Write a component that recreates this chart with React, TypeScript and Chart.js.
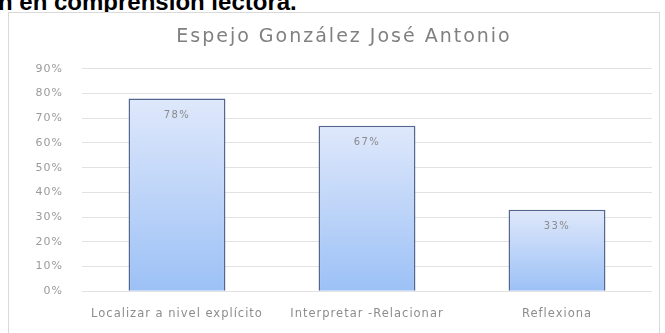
import React, { useEffect, useRef } from "react";
import { Chart, registerables } from "chart.js";

Chart.register(...registerables);

const categories = ["Localizar a nivel explícito", "Interpretar -Relacionar", "Reflexiona"];
const values = [78, 67, 33];
const valueLabels = ["78%", "67%", "33%"];
const yTickSuffix = "%";
const chartTitle = "Espejo González José Antonio";
const headingText = "n en comprensión lectora.";

const FONT = "'DejaVu Sans', 'Liberation Sans', sans-serif";
const TITLE_CENTER_X = 335;

const stylePlugin = {
  id: "textStyle",
  afterLayout(chart: any) {
    const tb = chart.titleBlock;
    if (!tb) return;
    tb.left = 2 * TITLE_CENTER_X - tb.right;
    tb.width = tb.right - tb.left;
    if (!tb.__spaced) {
      const orig = tb.draw.bind(tb);
      tb.draw = (area: any) => {
        const ctx = chart.ctx;
        ctx.save();
        (ctx as any).letterSpacing = "2px";
        orig(area);
        ctx.restore();
      };
      tb.__spaced = true;
    }
  },
  beforeDraw(chart: any) {
    (chart.ctx as any).letterSpacing = "1px";
  },
  afterDraw(chart: any) {
    (chart.ctx as any).letterSpacing = "0px";
  },
};

const valueLabelPlugin = {
  id: "valueLabels",
  afterDatasetsDraw(chart: any) {
    const ctx = chart.ctx;
    const meta = chart.getDatasetMeta(0);
    ctx.save();
    (ctx as any).letterSpacing = "1.5px";
    ctx.font = "10px " + FONT;
    ctx.fillStyle = "#8a8a8a";
    ctx.textAlign = "center";
    ctx.textBaseline = "middle";
    meta.data.forEach((bar: any, i: number) => {
      ctx.fillText(valueLabels[i], bar.x, bar.y + 17);
    });
    ctx.restore();
  },
};

export default function App() {
  const ref = useRef<HTMLCanvasElement | null>(null);

  useEffect(() => {
    if (!ref.current) return;
    const chart = new Chart(ref.current, {
      type: "bar",
      data: {
        labels: categories,
        datasets: [
          {
            data: values,
            backgroundColor: (c: any) => {
              const ch = c.chart;
              const ys = ch.scales?.y;
              if (!ys || !c.parsed) return "#bcd3f8";
              const top = ys.getPixelForValue(c.parsed.y);
              const bottom = ys.getPixelForValue(0);
              if (!isFinite(top) || !isFinite(bottom) || top === bottom) return "#bcd3f8";
              const g = ch.ctx.createLinearGradient(0, top, 0, bottom);
              g.addColorStop(0, "#dfe8fb");
              g.addColorStop(1, "#9cc1f6");
              return g;
            },
            borderColor: "#55678f",
            borderWidth: 1.5,
            barPercentage: 0.51,
            categoryPercentage: 1,
          },
        ],
      },
      options: {
        animation: false,
        responsive: false,
        maintainAspectRatio: false,
        layout: { padding: { left: 0, right: 7, top: 0, bottom: 0 } },
        plugins: {
          legend: { display: false },
          tooltip: { enabled: false },
          title: {
            display: true,
            text: chartTitle,
            color: "#808080",
            font: { size: 19, family: FONT, weight: "normal" },
            padding: { top: 13, bottom: 20 },
          },
        },
        scales: {
          x: {
            grid: { display: false, drawTicks: false },
            border: { display: false },
            ticks: {
              color: "#8c8c8c",
              font: { size: 11.5, family: FONT },
              maxRotation: 0,
              padding: 16,
            },
          },
          y: {
            min: 0,
            max: 90,
            grid: { color: "#e2e2e2", drawTicks: false },
            border: { display: false },
            afterFit: (s: any) => {
              s.width = 73;
            },
            ticks: {
              stepSize: 10,
              color: "#9a9a9a",
              font: { size: 11, family: FONT },
              padding: 19,
              callback: (v: any) => v + yTickSuffix,
            },
          },
        },
      },
      plugins: [stylePlugin, valueLabelPlugin],
    });
    return () => chart.destroy();
  }, []);

  return (
    <div style={{ position: "fixed", left: 0, top: 0, width: 665, height: 333, background: "#fff", overflow: "hidden" }}>
      <div
        style={{
          position: "absolute",
          left: -2,
          top: -12,
          font: "bold 24px 'Liberation Sans', Arial, sans-serif",
          color: "#000",
          whiteSpace: "nowrap",
        }}
      >
        {headingText}
      </div>
      <div
        style={{
          position: "absolute",
          left: 8,
          top: 12,
          width: 652,
          height: 340,
          border: "1px solid #d9d9d9",
          boxSizing: "border-box",
          background: "#fff",
        }}
      >
        <canvas ref={ref} width={650} height={324} style={{ display: "block" }} />
      </div>
    </div>
  );
}
